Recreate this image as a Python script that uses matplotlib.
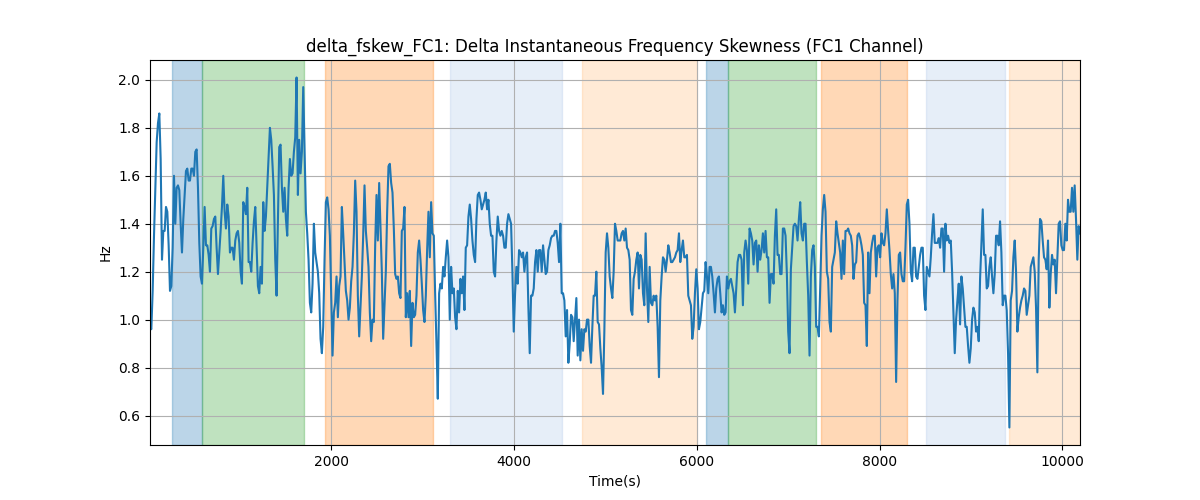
import numpy as np
import matplotlib
matplotlib.use("Agg")
import matplotlib.pyplot as plt

# Signal values, left to right, in six stretches
seg1 = [0.97, 0.96, 1.12, 1.35, 1.55, 1.74, 1.82, 1.86, 1.67, 1.25, 1.37, 1.37, 1.47, 1.45, 1.31, 1.12,
        1.14, 1.30, 1.60, 1.40, 1.55, 1.56, 1.54, 1.40, 1.28, 1.42, 1.52, 1.62, 1.63, 1.58, 1.58, 1.63,
        1.63, 1.60, 1.70, 1.71, 1.55, 1.32, 1.18, 1.15, 1.30, 1.47, 1.31, 1.31, 1.27, 1.20, 1.38, 1.39,
        1.42, 1.43, 1.30, 1.19, 1.28, 1.37, 1.47, 1.60, 1.45, 1.38, 1.48, 1.43, 1.28, 1.30, 1.30, 1.25,
        1.33, 1.36, 1.37, 1.32, 1.20, 1.15, 1.49, 1.47, 1.44, 1.55, 1.24, 1.24, 1.20, 1.32, 1.41, 1.47,
        1.31, 1.14, 1.11, 1.22, 1.15, 1.49, 1.37, 1.43, 1.55, 1.68, 1.80, 1.75, 1.64, 1.52, 1.25, 1.10,
        1.40, 1.72, 1.73, 1.55, 1.45, 1.55, 1.42, 1.35, 1.55, 1.67, 1.60, 1.61, 1.70, 1.76, 2.01, 1.52,
        1.75]
seg2 = [1.61, 1.70, 1.97, 1.70, 1.45, 1.36, 1.25, 1.07, 1.03, 1.15, 1.40, 1.28, 1.24, 1.20, 1.11, 0.92,
        0.86, 0.97, 1.25, 1.49, 1.51, 1.46, 1.35, 1.10, 0.85, 1.03, 1.07, 1.18, 1.01, 1.14, 1.18, 1.47,
        1.36, 1.24, 1.12, 1.08, 1.00, 1.05, 1.16, 1.22, 1.36, 1.58, 1.45, 1.10, 0.93, 1.05, 1.18, 1.35,
        1.56, 1.37, 1.30, 1.22, 1.03, 0.91, 1.00, 0.99, 1.31, 1.52, 1.33, 1.57, 1.39, 1.20, 0.92, 1.06,
        1.20, 1.45, 1.64, 1.65, 1.57, 1.53, 1.38, 1.19, 1.17, 1.18, 1.11, 1.09, 1.37, 1.38, 1.47, 1.01,
        1.11, 1.01, 1.12, 0.89, 1.07, 1.01, 1.02, 1.10, 1.28, 1.33, 1.25, 1.15, 1.04, 0.99, 1.10, 1.29,
        1.45, 1.26, 1.49, 1.36, 1.35, 1.11, 0.90, 0.67, 1.11, 1.15, 1.13, 1.22, 1.18, 1.26, 1.33, 1.26]
seg3 = [1.00, 1.22, 1.11, 1.13, 1.01, 0.96, 1.12, 1.03, 1.17, 1.11, 1.18, 1.04, 1.30, 1.31, 1.43, 1.48,
        1.42, 1.33, 1.27, 1.24, 1.42, 1.52, 1.53, 1.50, 1.46, 1.48, 1.50, 1.53, 1.46, 1.50, 1.40, 1.35,
        1.35, 1.20, 1.18, 1.33, 1.43, 1.37, 1.35, 1.37, 1.35, 1.30, 1.30, 1.40, 1.44, 1.42, 1.40, 1.20,
        0.95, 1.11, 1.22, 1.15, 1.29, 1.28, 1.26, 1.28, 1.20, 1.26, 1.28, 1.05, 0.86, 1.10, 1.10, 1.13,
        1.24, 1.29, 1.20, 1.29, 1.29, 1.20, 1.31, 1.25, 1.19, 1.20, 1.29, 1.31, 1.34, 1.35, 1.35, 1.37,
        1.37, 1.32, 1.24, 1.40, 1.11, 1.11, 1.08, 0.93, 1.04, 0.82, 0.90, 1.02, 1.01, 0.91, 1.00, 1.09,
        0.85, 1.00, 0.83, 0.96, 0.87, 0.96, 0.95, 1.00, 1.00, 0.89, 0.82, 0.97, 1.10, 1.10, 1.20, 0.99,
        0.98]
seg4 = [0.88, 0.80, 0.69, 0.95, 1.28, 1.36, 1.30, 1.18, 1.13, 1.09, 1.20, 1.40, 1.37, 1.33, 1.33, 1.33,
        1.36, 1.37, 1.33, 1.38, 1.30, 1.29, 1.25, 1.04, 1.02, 1.17, 1.20, 1.25, 1.28, 1.13, 1.27, 1.25,
        1.11, 1.06, 1.36, 1.13, 0.99, 1.22, 1.07, 1.06, 1.10, 1.08, 1.10, 0.97, 0.76, 1.08, 1.18, 1.26,
        1.25, 1.20, 1.25, 1.31, 1.28, 1.24, 1.24, 1.25, 1.26, 1.28, 1.29, 1.36, 1.24, 1.29, 1.33, 1.26,
        1.26, 1.27, 1.10, 1.08, 1.06, 0.92, 0.97, 1.11, 1.21, 1.13, 0.96, 0.99, 1.05, 1.11, 1.12, 1.24,
        1.18, 1.11, 1.22, 1.22, 1.18, 1.11, 1.03, 1.13, 1.17, 1.18, 1.11, 1.03, 1.06, 1.02, 1.03, 1.18,
        1.13, 1.16, 1.17, 1.14, 1.11, 1.03, 1.13, 1.24, 1.27, 1.27, 1.25, 1.06, 1.28, 1.33, 1.29, 1.15]
seg5 = [1.38, 1.36, 1.33, 1.23, 1.32, 1.33, 1.20, 1.31, 1.25, 1.29, 1.36, 1.28, 1.37, 1.26, 1.26, 1.07,
        1.19, 1.19, 1.15, 1.35, 1.46, 1.27, 1.27, 1.19, 1.19, 1.38, 1.38, 1.35, 1.19, 0.95, 0.86, 1.21,
        1.30, 1.39, 1.40, 1.39, 1.33, 1.42, 1.49, 1.36, 1.33, 1.40, 1.40, 1.24, 1.10, 0.85, 1.18, 1.29,
        1.31, 1.22, 0.97, 0.97, 0.93, 1.13, 1.35, 1.46, 1.52, 1.45, 1.20, 1.17, 0.99, 0.95, 1.22, 1.25,
        1.28, 1.41, 1.36, 1.32, 1.28, 1.17, 1.33, 1.19, 1.37, 1.37, 1.38, 1.36, 1.35, 1.31, 1.17, 1.23,
        1.24, 1.35, 1.36, 1.34, 1.31, 1.27, 1.07, 1.06, 0.89, 1.28, 1.11, 1.28, 1.32, 1.35, 1.35, 1.18,
        1.30, 1.31, 1.26, 1.36, 1.32, 1.31, 1.36, 1.46, 1.37, 1.29, 1.19, 1.13, 1.19, 1.11, 0.74, 1.08,
        1.27]
seg6 = [1.28, 1.19, 1.16, 1.16, 1.30, 1.48, 1.50, 1.40, 1.20, 1.16, 1.30, 1.30, 1.18, 1.17, 1.22, 1.27,
        1.30, 1.30, 1.10, 1.04, 1.22, 1.20, 1.18, 1.26, 1.36, 1.44, 1.32, 1.32, 1.32, 1.34, 1.30, 1.38,
        1.38, 1.20, 1.40, 1.33, 1.35, 1.32, 1.33, 1.20, 1.03, 0.86, 1.00, 1.08, 1.15, 0.98, 1.18, 1.13,
        1.05, 0.97, 0.97, 0.89, 0.82, 0.88, 1.00, 1.05, 1.03, 0.95, 0.97, 0.91, 1.17, 1.32, 1.46, 1.27,
        1.27, 1.13, 1.14, 1.22, 1.26, 1.18, 1.11, 1.19, 1.35, 1.35, 1.31, 1.41, 1.28, 1.06, 1.10, 1.10,
        1.04, 0.86, 0.55, 1.08, 1.12, 1.26, 1.33, 1.20, 0.95, 1.01, 1.05, 1.08, 1.10, 1.13, 1.12, 1.02,
        1.06, 1.10, 1.22, 1.24, 1.26, 1.20, 1.05, 0.78, 1.25, 1.42, 1.41, 1.33, 1.26, 1.25, 1.21, 1.33,
        1.05, 1.19, 1.27, 1.23, 1.25, 1.11, 1.25, 1.40, 1.41, 1.31, 1.29, 1.29, 1.40, 1.33, 1.50, 1.45,
        1.45, 1.55, 1.45, 1.56, 1.42, 1.25, 1.39, 1.36]

t_start, t_end = 16, 10194

# Shaded phases (start, end, colour)
span_starts = [257, 582, 1931, 3299, 4747, 6101, 6345, 7359, 8508, 9417]
span_ends = [582, 1705, 3110, 4521, 5999, 6345, 7301, 8297, 9373, 10194]
span_colors = ["tab:blue", "tab:green", "tab:orange", "#aec7e8", "#ffbb78",
               "tab:blue", "tab:green", "tab:orange", "#aec7e8", "#ffbb78"]

values = np.array(seg1 + seg2 + seg3 + seg4 + seg5 + seg6)
times = np.linspace(t_start, t_end, len(values))

fig, ax = plt.subplots(figsize=(12, 5), dpi=100)

for s, e, c in zip(span_starts, span_ends, span_colors):
    ax.axvspan(s, e, color=c, alpha=0.3)

ax.plot(times, values, color="tab:blue")

ax.set_xlim(times.min(), times.max())
ax.set_title("delta_fskew_FC1: Delta Instantaneous Frequency Skewness (FC1 Channel)")
ax.set_xlabel("Time(s)")
ax.set_ylabel("Hz")
ax.grid(True)

fig.savefig("out.png")
